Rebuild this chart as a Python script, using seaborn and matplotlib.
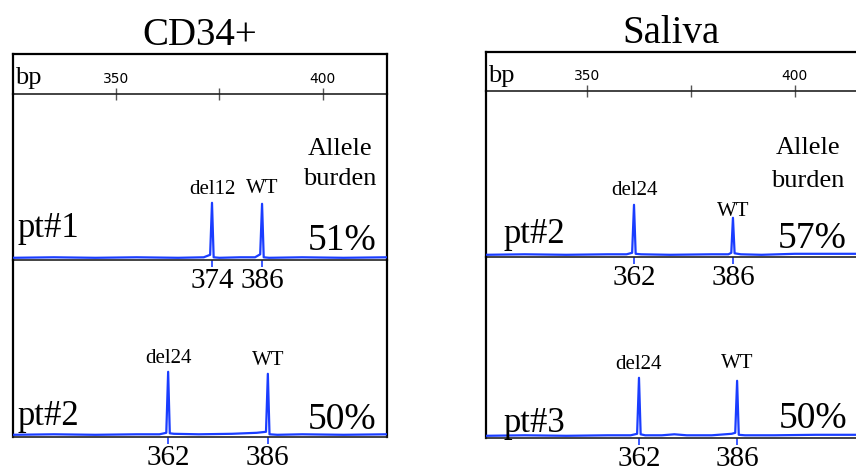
import numpy as np
import pandas as pd
import seaborn as sns
import matplotlib.pyplot as plt

sns.set_theme(style='white')
plt.rcParams['font.family'] = ['Liberation Serif', 'DejaVu Serif']
plt.rcParams['text.color'] = 'black'
plt.rcParams['xtick.labelcolor'] = 'black'

# size ruler (bp)
ruler_ticks = [350, 375, 400]
ruler_labels = ['350', '', '400']

# CD34+ , pt#1
cd34_pt1_bp = [325, 335, 345, 355, 365, 371.2, 372.75, 373.2, 373.6, 375, 380, 383.6, 384.85, 385.3, 385.7, 387, 395, 405, 415.5]
cd34_pt1_sig = [1.0, 1.5, 1.0, 1.5, 1.0, 1.5, 4.0, 56, 1.5, 1.0, 1.5, 1.5, 4.5, 55, 1.5, 1.0, 1.5, 1.0, 1.5]
cd34_pt1_peaks = [373.2, 385.3]
cd34_pt1_sizes = ['374', '386']
cd34_pt1_alleles = ['del12', 'WT']

# CD34+ , pt#2
cd34_pt2_bp = [325, 335, 345, 355, 360.5, 362.15, 362.6, 363.0, 364, 370, 378, 384, 386.25, 386.7, 387.1, 389, 395, 405, 415.5]
cd34_pt2_sig = [1.0, 1.5, 1.0, 1.5, 1.5, 3.0, 64, 2.5, 2.0, 1.5, 2.0, 3.0, 4.0, 62, 1.5, 1.0, 1.5, 1.0, 1.5]
cd34_pt2_peaks = [362.6, 386.7]
cd34_pt2_sizes = ['362', '386']
cd34_pt2_alleles = ['del24', 'WT']

# Saliva , pt#2
sal_pt2_bp = [325.7, 335, 345, 355, 359.5, 360.85, 361.3, 361.7, 363, 370, 380, 384.0, 384.7, 385.1, 385.5, 387, 392, 400, 414.7]
sal_pt2_sig = [1.0, 1.5, 1.0, 1.5, 1.5, 3.0, 51, 2.0, 1.5, 1.0, 1.5, 1.5, 3.0, 38, 2.5, 1.5, 1.0, 2.0, 2.0]
sal_pt2_peaks = [361.3, 385.1]
sal_pt2_sizes = ['362', '386']
sal_pt2_alleles = ['del24', 'WT']

# Saliva , pt#3
sal_pt3_bp = [325.7, 335, 345, 355, 360.5, 362.05, 362.5, 362.9, 364, 368, 371, 374, 380, 384.8, 385.65, 386.1, 386.5, 388, 395, 405, 414.7]
sal_pt3_sig = [1.0, 1.5, 1.0, 1.5, 1.5, 3.0, 59, 2.5, 1.5, 1.5, 2.5, 1.5, 1.5, 3.0, 4.0, 56, 2.0, 1.5, 1.5, 2.0, 2.0]
sal_pt3_peaks = [362.5, 386.1]
sal_pt3_sizes = ['362', '386']
sal_pt3_alleles = ['del24', 'WT']

panel_titles = ['CD34+', 'Saliva']
patients = [['pt#1', 'pt#2'], ['pt#2', 'pt#3']]
burdens = [['51%', '50%'], ['57%', '50%']]

blue = '#1a3dff'
W, H = 856, 472

fig = plt.figure(figsize=(W / 100, H / 100), dpi=100)


def px_axes(x0, x1, y0, y1):
    # pixel box (from top-left) -> figure axes
    return fig.add_axes([x0 / W, 1 - y1 / H, (x1 - x0) / W, (y1 - y0) / H])


def draw_trace(ax, bp, sig, peaks, sizes, alleles, pads, xlim, hpx, right_spine):
    sns.lineplot(x=bp, y=sig, ax=ax, color=blue, lw=1.6, zorder=3)
    ax.set_xlim(*xlim)
    ax.set_ylim(-1.2, hpx - 1.2)
    ax.set_yticks([])
    ax.set_xticks(peaks, sizes)
    ax.tick_params(axis='x', bottom=True, direction='out', length=5, width=1.2,
                   color=blue, pad=0.5, labelsize=21, labelcolor='black')
    for s in ['left', 'right']:
        ax.spines[s].set_linewidth(1.6)
        ax.spines[s].set_color('black')
    ax.spines['right'].set_visible(right_spine)
    ax.spines['top'].set_visible(False)
    ax.spines['bottom'].set_linewidth(1.2)
    ax.spines['bottom'].set_color('#222222')
    ax.patch.set_alpha(0)
    for p, a, pad in zip(peaks, alleles, pads):
        top = np.interp(p, bp, sig)
        ax.annotate(a, (p, top), xytext=(0, pad), textcoords='offset points',
                    ha='center', va='baseline', fontsize=15)


layouts = [
    dict(x0=13, x1=387, top=54, ruler=94, mid=260, bot=437, xlim=(325.1, 415.5), right=True),
    dict(x0=486, x1=856, top=52, ruler=91, mid=257, bot=438, xlim=(325.7, 414.7), right=False),
]
traces = [
    [(cd34_pt1_bp, cd34_pt1_sig, cd34_pt1_peaks, cd34_pt1_sizes, cd34_pt1_alleles, [6.5, 8]),
     (cd34_pt2_bp, cd34_pt2_sig, cd34_pt2_peaks, cd34_pt2_sizes, cd34_pt2_alleles, [6, 6.5])],
    [(sal_pt2_bp, sal_pt2_sig, sal_pt2_peaks, sal_pt2_sizes, sal_pt2_alleles, [7, 1.5]),
     (sal_pt3_bp, sal_pt3_sig, sal_pt3_peaks, sal_pt3_sizes, sal_pt3_alleles, [6, 9])],
]
# text positions in axes fraction: (pt# x, pt# y, % x, % y)
label_pos = [
    [(0.013, 0.139, 0.971, 0.060), (0.013, 0.068, 0.971, 0.045)],
    [(0.046, 0.084, 0.976, 0.054), (0.046, 0.033, 0.976, 0.055)],
]
allele_pos = [(0.874, 0.633, 0.452), (0.870, 0.620, 0.420)]

for i, L in enumerate(layouts):
    # ruler box
    rax = px_axes(L['x0'], L['x1'], L['top'], L['ruler'])
    rax.set_xlim(*L['xlim'])
    rax.set_xticks([])
    rax.set_yticks([])
    rax.spines['bottom'].set_visible(False)
    rax.spines['right'].set_visible(L['right'])
    for s in ['top', 'left', 'right']:
        rax.spines[s].set_linewidth(1.6)
        rax.spines[s].set_color('black')
    rax.text(0.006, 0.24, 'bp', transform=rax.transAxes, fontsize=19,
             ha='left', va='baseline')
    rax.text(0.5, 1.0, panel_titles[i], transform=rax.transAxes, fontsize=28,
             ha='center', va='bottom')

    rows = [(L['ruler'], L['mid']), (L['mid'], L['bot'])]
    for j, (y0, y1) in enumerate(rows):
        ax = px_axes(L['x0'], L['x1'], y0, y1)
        bp, sig, peaks, sizes, alleles, pads = traces[i][j]
        draw_trace(ax, bp, sig, peaks, sizes, alleles, pads, L['xlim'], y1 - y0, L['right'])
        px, py, bx, by = label_pos[i][j]
        ax.text(px, py, patients[i][j], transform=ax.transAxes, fontsize=25,
                ha='left', va='baseline')
        ax.text(bx, by, burdens[i][j], transform=ax.transAxes, fontsize=27,
                ha='right', va='baseline')
        if j == 0:
            ax_, a1, a2 = allele_pos[i]
            ax.text(ax_, a1, 'Allele', transform=ax.transAxes, fontsize=19,
                    ha='center', va='baseline')
            ax.text(ax_, a2, 'burden', transform=ax.transAxes, fontsize=19,
                    ha='center', va='baseline')
            sec = ax.secondary_xaxis('top')
            sec.set_xticks(ruler_ticks, ruler_labels)
            sec.tick_params(direction='inout', length=8, width=1, color='#555555',
                            pad=2, labelsize=10, labelcolor='black')
            for lab in sec.get_xticklabels():
                lab.set_fontfamily('DejaVu Sans')
            sec.spines['top'].set_linewidth(1.2)
            sec.spines['top'].set_color('#222222')

fig.savefig('out.png', dpi=100)
